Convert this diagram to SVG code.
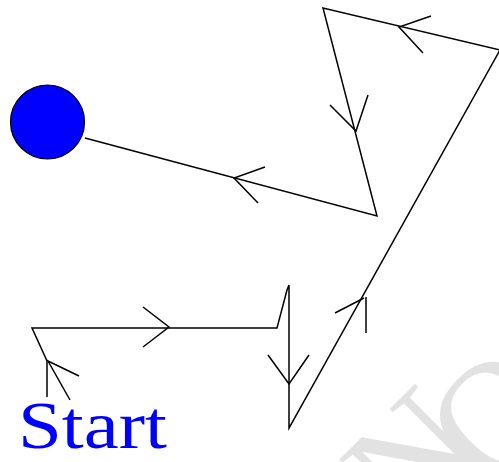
<svg xmlns="http://www.w3.org/2000/svg" width="499" height="462" viewBox="0 0 499 462">
<style>
.ln{fill:none;stroke:#000;stroke-width:1.5;stroke-linejoin:miter}
.wm{font-family:"Liberation Serif",serif;font-size:160px;fill:#e2e2e2}
</style>
<rect width="499" height="462" fill="#fff"/>
<g id="watermark">
<text class="wm" transform="translate(410,537) rotate(-45)">N<tspan dx="-28" dy="28">O</tspan></text>
</g>
<g id="connectors">
<path class="ln" d="M47,397 L47,361 L32,328 L277,328 L287,290 L289,285 L289,428 L500,50 L323,8 L377,216 L85,138"/>
<path class="ln" d="M143,307 L169,327 L143,347"/>
<path class="ln" d="M268,355 L289,384 L309,355"/>
<path class="ln" d="M335,313 L364,298 M366,297 L366,333"/>
<path class="ln" d="M431,16 L399,27 L423,53"/>
<path class="ln" d="M330,105 L356,131 L368,95"/>
<path class="ln" d="M265,167 L234,178 L258,203"/>
<path class="ln" d="M79,376 L48,361 L70,400"/>
</g>
<g id="end-node">
<circle cx="47.5" cy="122" r="37" fill="#0000ff" stroke="#000" stroke-width="1.2"/>
</g>
<g id="start-label">
<text x="18" y="448" font-family="'Liberation Serif',serif" font-size="68" fill="#0000ff" textLength="149" lengthAdjust="spacingAndGlyphs">Start</text>
</g>
</svg>
